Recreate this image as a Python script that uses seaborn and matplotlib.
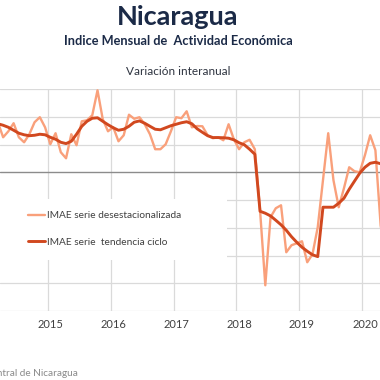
"""
IMAE Nicaragua: variación interanual, serie desestacionalizada y tendencia ciclo.
"""

import matplotlib
import numpy as np
import pandas as pd
import seaborn as sns

matplotlib.use("Agg")
import matplotlib.pyplot as plt
from matplotlib.patches import Rectangle
from matplotlib.ticker import FixedLocator

# Meses de la serie (ene-2014 a may-2020)
meses = pd.period_range("2014-01", "2020-05", freq="M")

# IMAE serie desestacionalizada (variación interanual, %)
imae_desestacionalizada = [
    4.76, 5.62, 5.41, 3.78, 4.43, 5.30, 3.78, 3.24, 4.11, 5.41, 5.95, 4.86,
    3.03, 4.22, 2.16, 1.51, 4.11, 2.92, 5.51, 5.62, 6.16, 8.86, 5.73, 4.43,
    4.86, 3.35, 4.00, 6.22, 5.78, 5.95, 5.19, 4.11, 2.49, 2.49, 3.03, 4.43,
    5.95, 5.84, 6.59, 4.86, 5.00, 4.97, 4.00, 3.68, 3.78, 3.46, 5.19, 3.57,
    2.49, 3.24, 3.51, 2.49, -4.11, -12.22, -4.86, -3.89, -3.57, -8.65, -7.89, -7.68,
    -7.46, -9.73, -8.86, -5.95, -0.86, 4.22, -0.86, -3.78, -1.73, 0.54, 0.11, 0.00,
    1.84, 4.00, 2.38, -5.73, -9.51,
]

# IMAE serie tendencia ciclo (variación interanual, %)
imae_tendencia = [
    5.41, 5.41, 5.24, 5.08, 4.86, 4.54, 4.22, 4.05, 3.95, 4.00, 4.11, 4.05,
    3.78, 3.57, 3.24, 3.10, 3.35, 4.11, 4.97, 5.51, 5.84, 5.89, 5.51, 5.14,
    4.81, 4.54, 4.65, 4.97, 5.41, 5.55, 5.30, 4.97, 4.65, 4.59, 4.81, 5.03,
    5.19, 5.35, 5.46, 5.24, 4.70, 4.32, 3.95, 3.75, 3.75, 3.73, 3.68, 3.51,
    3.19, 2.97, 2.49, 1.95, -4.22, -4.43, -4.72, -5.19, -5.68, -6.27, -6.97, -7.57,
    -8.11, -8.54, -8.92, -9.12, -3.78, -3.78, -3.78, -3.35, -2.81, -1.84, -0.97, -0.11,
    0.54, 0.97, 1.08, 0.92, 0.65,
]

anios = [2015, 2016, 2017, 2018, 2019, 2020]
etiquetas_y = [-15, -12, -9, -6, -3, 0, 3, 6, 9]

COLOR_DESEST = "#F9A07B"
COLOR_TEND = "#D1481F"
COLOR_TITULO = "#1B2A47"


def main() -> None:
    sns.set_theme(style="white")
    plt.rcParams["font.family"] = ["Lato", "DejaVu Sans"]

    # posición de cada mes en años decimales (centro del mes)
    x = np.array([p.year + (p.month - 0.5) / 12 for p in meses])
    df = pd.DataFrame({
        "fecha": x,
        "desest": imae_desestacionalizada,
        "tend": imae_tendencia,
    })

    fig = plt.figure(figsize=(3.8, 3.8), dpi=100)
    ax = fig.add_axes([0, 69 / 380, 1, 222 / 380])

    for v in etiquetas_y:
        if v != 0:
            ax.axhline(v, color="#DADADA", lw=0.9, zorder=0)
    for a in anios:
        ax.axvline(a, color="#DADADA", lw=0.9, zorder=0)
    ax.axhline(0, color="#8C8C8C", lw=1.0, zorder=1)

    # fondo blanco de la leyenda (tapa la cuadrícula como en el original)
    ax.add_patch(Rectangle((0, 1 - 260 / 380), 227 / 380, 61 / 380,
                           transform=fig.transFigure, facecolor="white",
                           edgecolor="none", zorder=1.5))

    sns.lineplot(data=df, x="fecha", y="desest", ax=ax, color=COLOR_DESEST,
                 lw=1.7, label="IMAE serie desestacionalizada", zorder=2)
    sns.lineplot(data=df, x="fecha", y="tend", ax=ax, color=COLOR_TEND,
                 lw=2.1, label="IMAE serie  tendencia ciclo", zorder=3)

    ax.set_xlim(2015 - 47.7 / 62.92, 2020 + 17.7 / 62.92)
    ax.set_ylim(-15, 9)
    for s in ax.spines.values():
        s.set_visible(False)
    ax.set_xlabel("")
    ax.set_ylabel("")
    ax.set_yticks([])
    ax.xaxis.set_major_locator(FixedLocator([a + 1 / 24 for a in anios]))
    ax.set_xticklabels([str(a) for a in anios])
    ax.tick_params(axis="x", length=0, pad=6, labelsize=8, labelcolor="#404040")

    ax.legend(loc="center left", bbox_to_anchor=(28 / 380, 1 - 229 / 380),
              bbox_transform=fig.transFigure, frameon=False, fontsize=7.3,
              handlelength=1.7, handletextpad=0.2, labelspacing=1.75,
              borderpad=0, borderaxespad=0, labelcolor="#404040")

    fig.text(178 / 380, 1 - 25 / 380, "Nicaragua", ha="center", va="baseline",
             fontsize=19.5, fontweight="bold", color=COLOR_TITULO)
    fig.text(178 / 380, 1 - 45 / 380, "Indice Mensual de  Actividad Económica",
             ha="center", va="baseline", fontsize=9.2, fontweight="bold",
             color=COLOR_TITULO)
    fig.text(178 / 380, 1 - 75 / 380, "Variación interanual", ha="center",
             va="baseline", fontsize=8.5, color="#2E3440")
    fig.text(78 / 380, 1 - 374 / 380, "Fuente: Banco Central de Nicaragua",
             ha="right", va="center", fontsize=7.2, color="#8A8A8A")

    fig.savefig("out.png", dpi=100)
    plt.close(fig)


if __name__ == "__main__":
    main()
